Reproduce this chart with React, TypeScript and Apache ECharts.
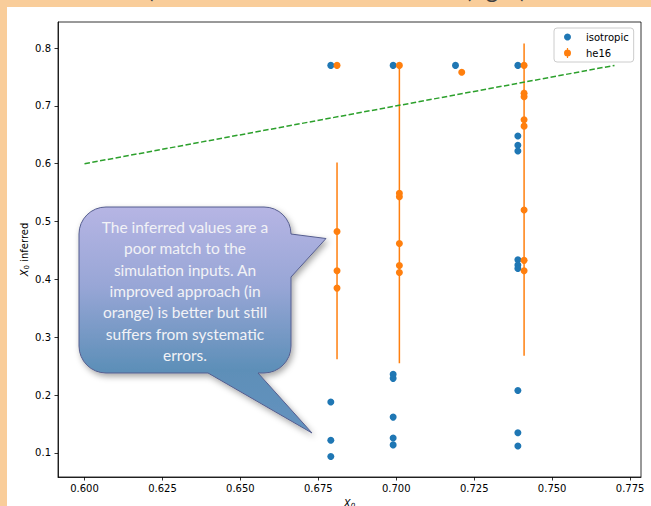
import React, { useEffect, useRef } from "react";
import * as echarts from "echarts";

// ---- data ----
const isoX = [0.679, 0.699, 0.719, 0.739];
const isoCol679 = [0.77, 0.188, 0.122, 0.094];
const isoCol699 = [0.77, 0.236, 0.229, 0.162, 0.126, 0.114];
const isoCol719 = [0.77];
const isoCol739 = [0.77, 0.648, 0.632, 0.622, 0.434, 0.425, 0.419, 0.208, 0.135, 0.112];

const he16X = [0.681, 0.701, 0.721, 0.741];
const he16Col681 = [0.77, 0.483, 0.415, 0.385];
const he16Col701 = [0.77, 0.549, 0.543, 0.462, 0.424, 0.412];
const he16Col721 = [0.758];
const he16Col741 = [0.77, 0.722, 0.716, 0.676, 0.665, 0.52, 0.433, 0.415];

const errLow = [0.262, 0.255, null, 0.268];
const errHigh = [0.602, 0.77, null, 0.808];

const identityLine = [0.6, 0.77];

const xTicks = [0.6, 0.625, 0.65, 0.675, 0.7, 0.725, 0.75, 0.775];
const yTicks = [0.1, 0.2, 0.3, 0.4, 0.5, 0.6, 0.7, 0.8];

const calloutText =
  "The inferred values are a\npoor match to the\nsimulation inputs. An\nimproved approach (in\norange) is better but still\nsuffers from systematic\nerrors.";

const BLUE = "#1f77b4";
const ORANGE = "#ff7f0e";
const GREEN = "#2ca02c";
const FONT = "DejaVu Sans";

const calloutD =
  "M106,207 H264 A27,27 0 0 1 291,234 L326,238.5 L291,277 V346 A27,27 0 0 1 264,373 H258 L312,433 L208,373 H106 A27,27 0 0 1 79,346 V234 A27,27 0 0 1 106,207 Z";
let registered = false;

function pairs(x: number, ys: number[]) {
  return ys.map((y) => [x, y]);
}

export default function App() {
  const ref = useRef<HTMLDivElement>(null);
  useEffect(() => {
    if (!registered) {
      echarts.graphic.registerShape("callout", echarts.graphic.extendPath(calloutD, {}));
      registered = true;
    }
    const chart = echarts.init(ref.current!, null, { renderer: "svg" });
    const isoCols = [isoCol679, isoCol699, isoCol719, isoCol739];
    const heCols = [he16Col681, he16Col701, he16Col721, he16Col741];
    const isoData = isoCols.flatMap((c, i) => pairs(isoX[i], c));
    const heData = heCols.flatMap((c, i) => pairs(he16X[i], c));
    const errData = he16X
      .map((x, i) => [x, errLow[i], errHigh[i]])
      .filter((d) => d[1] != null);

    const axisText = { fontFamily: FONT, fontSize: 10, color: "#000" };
    chart.setOption({
      animation: false,
      backgroundColor: "#ffffff",
      grid: {
        left: 58,
        right: 10,
        top: 22,
        bottom: 29,
        show: true,
        borderColor: "#000",
        borderWidth: 0.8,
        containLabel: false,
        outerBoundsMode: "none",
      },
      legend: {
        orient: "vertical",
        left: 554,
        top: 28,
        padding: [4, 5, 4, 10],
        itemWidth: 7,
        itemHeight: 10,
        itemGap: 6,
        borderColor: "#cccccc",
        borderWidth: 1,
        borderRadius: 3,
        backgroundColor: "rgba(255,255,255,0.8)",
        textStyle: { fontFamily: FONT, fontSize: 10, color: "#000", padding: [0, 0, 0, 10] },
        data: [
          { name: "isotropic", icon: "circle", itemStyle: { opacity: 1 } },
          {
            name: "he16",
            icon: "path://M4.4,0 H5.6 V10 H4.4 Z M1.5,5 A3.5,3.5 0 1 1 8.5,5 A3.5,3.5 0 1 1 1.5,5 Z",
            itemStyle: { opacity: 1 },
          },
        ],
      },
      xAxis: {
        type: "value",
        min: 0.5915,
        max: 0.7785,
        axisLine: { show: true, onZero: false, lineStyle: { color: "#000", width: 0.8 } },
        axisTick: { show: true, length: 3.5, customValues: xTicks, lineStyle: { color: "#000", width: 0.8 } },
        axisLabel: {
          ...axisText,
          customValues: xTicks,
          margin: 6,
          formatter: (v: number) => v.toFixed(3),
        },
        splitLine: { show: false },
        name: "{i|X}{s|0}",
        nameLocation: "middle",
        nameGap: 20,
        nameMoveOverlap: false,
        nameTextStyle: {
          rich: {
            i: { fontFamily: FONT, fontStyle: "italic", fontSize: 10, color: "#000" },
            s: { fontFamily: FONT, fontStyle: "italic", fontSize: 7, color: "#000", padding: [5, 0, 0, 0] },
          },
        },
      },
      yAxis: {
        type: "value",
        min: 0.0585,
        max: 0.845,
        axisLine: { show: true, onZero: false, lineStyle: { color: "#000", width: 0.8 } },
        axisTick: { show: true, length: 3.5, customValues: yTicks, lineStyle: { color: "#000", width: 0.8 } },
        axisLabel: {
          ...axisText,
          customValues: yTicks,
          margin: 7,
          formatter: (v: number) => v.toFixed(1),
        },
        splitLine: { show: false },
        name: "{i|X}{s|0}{t| inferred}",
        nameLocation: "middle",
        nameRotate: 90,
        nameGap: 28,
        nameMoveOverlap: false,
        nameTextStyle: {
          rich: {
            i: { fontFamily: FONT, fontStyle: "italic", fontSize: 10, color: "#000" },
            s: { fontFamily: FONT, fontSize: 7, color: "#000", padding: [5, 0, 0, 0] },
            t: { fontFamily: FONT, fontSize: 10, color: "#000" },
          },
        },
      },
      series: [
        {
          name: "isotropic",
          type: "scatter",
          data: isoData,
          symbolSize: 7,
          itemStyle: { color: BLUE, opacity: 1 },
          z: 3,
        },
        {
          name: "he16 errors",
          type: "custom",
          data: errData,
          encode: { x: 0, y: [1, 2] },
          z: 4,
          renderItem: (params: any, api: any) => {
            const p1 = api.coord([api.value(0), api.value(1)]);
            const p2 = api.coord([api.value(0), api.value(2)]);
            return {
              type: "line",
              shape: { x1: p1[0], y1: p1[1], x2: p2[0], y2: p2[1] },
              style: { stroke: ORANGE, lineWidth: 1.5 },
            };
          },
        },
        {
          name: "he16",
          type: "scatter",
          data: heData,
          symbolSize: 7,
          itemStyle: { color: ORANGE, opacity: 1 },
          z: 5,
        },
        {
          name: "identity",
          type: "line",
          data: identityLine.map((v) => [v, v]),
          showSymbol: false,
          symbol: "none",
          lineStyle: { color: GREEN, width: 1.5, type: [5.5, 2.4] },
          z: 6,
        },
      ],
      graphic: [
        { type: "rect", left: 0, top: 0, shape: { width: 651, height: 7 }, style: { fill: "#f9cd9a" }, z: 10 },
        { type: "rect", left: 0, top: 0, shape: { width: 7, height: 506 }, style: { fill: "#f9cd9a" }, z: 10 },
        {
          type: "text",
          x: 150,
          y: 0,
          z: 11,
          style: { text: ")", font: "24px Lato", fill: "#404040", verticalAlign: "bottom" },
        },
        {
          type: "text",
          x: 465,
          y: 0,
          z: 11,
          style: { text: "(right)", font: "24px Lato", fill: "#404040", verticalAlign: "bottom" },
        },
        {
          type: "callout",
          x: 0,
          y: 0,
          z: 20,
          style: {
            fill: new echarts.graphic.LinearGradient(0, 0, 0, 1, [
              { offset: 0, color: "#b6b5e4" },
              { offset: 0.35, color: "#98a6d6" },
              { offset: 0.72, color: "#5d8fb8" },
              { offset: 1, color: "#6592bf" },
            ]),
            stroke: "#555d8e",
            lineWidth: 1,
            shadowBlur: 6,
            shadowColor: "rgba(0,0,0,0.35)",
            shadowOffsetX: 2,
            shadowOffsetY: 3,
          },
        },
        {
          type: "text",
          x: 185,
          y: 291,
          z: 21,
          style: {
            text: calloutText,
            font: "15.5px Lato",
            fill: "#f2f2f6",
            align: "center",
            verticalAlign: "middle",
            lineHeight: 21.4,
          },
        },
      ],
    });
    return () => chart.dispose();
  }, []);
  return <div ref={ref} style={{ position: "fixed", left: 0, top: 0, width: 651, height: 506 }} />;
}
